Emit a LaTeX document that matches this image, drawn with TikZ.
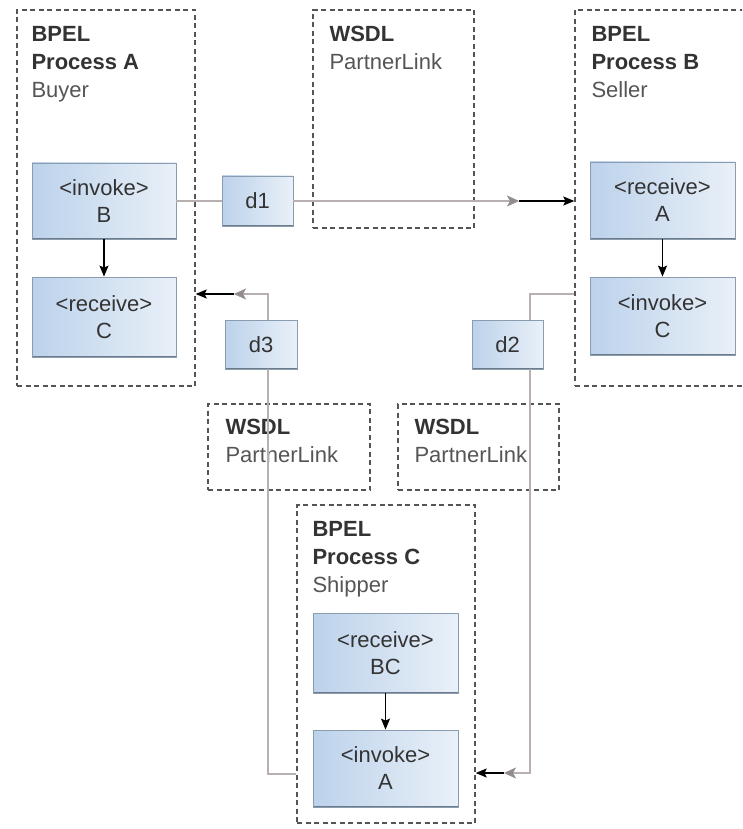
\documentclass[tikz,border=0pt]{standalone}
\usepackage{fontspec}
\setmainfont{Liberation Sans}
\usetikzlibrary{arrows.meta,calc}
\definecolor{boxL}{HTML}{BCD2EB}
\definecolor{boxR}{HTML}{E9F0F8}
\definecolor{boxLine}{HTML}{8A9CB0}
\definecolor{boxShade}{HTML}{6E7C8A}
\definecolor{dashCol}{HTML}{555555}
\definecolor{connCol}{HTML}{B8B0B0}
\definecolor{tipCol}{HTML}{948C8C}
\definecolor{boldCol}{HTML}{333333}
\definecolor{lightCol}{HTML}{555555}
\tikzset{
  container/.style={draw=dashCol, line width=1.3pt, dash pattern=on 5pt off 3.5pt, minimum width=#1, inner sep=0pt},
  ttl/.style={anchor=north west, align=left, inner sep=0pt, font=\fontsize{22}{28}\selectfont},
  act/.style={draw=boxLine, line width=0.8pt, left color=boxL, right color=boxR,
    minimum width=145pt, minimum height=78pt, align=center, inner sep=0pt,
    text=boldCol, font=\fontsize{22}{27}\selectfont,
    path picture={\draw[boxShade, line width=2.4pt] (path picture bounding box.south west) -- (path picture bounding box.south east);
                  \draw[boxShade!70, line width=1.6pt] (path picture bounding box.south west) -- (path picture bounding box.north west);}},
  dat/.style={act, minimum width=71pt, minimum height=50pt},
  conn/.style={draw=connCol, line width=1.6pt},
  gtip/.style={conn, -{Stealth[length=12pt,width=11pt,inset=3pt,line width=0.5pt,color=tipCol]}},
  btip/.style={draw=black, line width=1.4pt, -{Stealth[length=11pt,width=9pt,inset=2pt]}},
}
\begin{document}
\begin{tikzpicture}[x=1pt,y=-1pt]
\useasboundingbox (0,0) rectangle (742,829);
\clip (0,0) rectangle (742,829);
% containers
\node[container=178pt, minimum height=376pt] (procA) at (106,198) {};
\node[container=161pt, minimum height=218pt] (wsdlT) at (393.5,119) {};
\node[container=190pt, minimum height=376pt] (procB) at (670,198) {};
\node[container=162pt, minimum height=86pt] (wsdlL) at (289,447) {};
\node[container=161pt, minimum height=86pt] (wsdlR) at (478.5,447) {};
\node[container=178pt, minimum height=318pt] (procC) at (386,664) {};
% titles
\node[ttl] (tA) at ([shift={(15,17)}]procA.north west) {\textcolor{boldCol}{\textbf{BPEL}}\\\textcolor{boldCol}{\textbf{Process A}}\\\textcolor{lightCol}{Buyer}};
\node[ttl] (tW) at ([shift={(17,17)}]wsdlT.north west) {\textcolor{boldCol}{\textbf{WSDL}}\\\textcolor{lightCol}{PartnerLink}};
\node[ttl] (tB) at ([shift={(17,17)}]procB.north west) {\textcolor{boldCol}{\textbf{BPEL}}\\\textcolor{boldCol}{\textbf{Process B}}\\\textcolor{lightCol}{Seller}};
\node[ttl] (tWL) at ([shift={(18,16)}]wsdlL.north west) {\textcolor{boldCol}{\textbf{WSDL}}\\\textcolor{lightCol}{PartnerLink}};
\node[ttl] (tWR) at ([shift={(17,16)}]wsdlR.north west) {\textcolor{boldCol}{\textbf{WSDL}}\\\textcolor{lightCol}{PartnerLink}};
\node[ttl] (tC) at ([shift={(16,17)}]procC.north west) {\textcolor{boldCol}{\textbf{BPEL}}\\\textcolor{boldCol}{\textbf{Process C}}\\\textcolor{lightCol}{Shipper}};
% activities
\node[act, minimum width=144pt, minimum height=76pt] (invB) at (104,201) {<invoke>\\B};
\node[act, minimum width=144pt, minimum height=80pt] (recC) at (104,317) {<receive>\\C};
\node[act, minimum height=77pt] (recA) at (662.5,200.5) {<receive>\\A};
\node[act] (invC) at (662.5,316) {<invoke>\\C};
\node[act, minimum height=80pt] (recBC) at (385.5,653) {<receive>\\BC};
\node[act, minimum height=77pt] (invA) at (385.5,768.5) {<invoke>\\A};
% data
\node[dat] (d1) at (257.5,201) {d1};
\node[dat, minimum width=72pt, minimum height=49pt] (d3) at (261,344.5) {d3};
\node[dat, minimum height=49pt] (d2) at (507.5,344.5) {d2};
% internal flow
\draw[btip, line width=1.2pt] (invB.south) -- (recC.north);
\draw[btip, line width=1.2pt] (recA.south) -- (invC.north);
\draw[btip, line width=1.2pt] (recBC.south) -- (invA.north);
% d1 connector
\coordinate (g1) at (519,201);
\draw[conn] (invB.east) -- (d1.west);
\draw[gtip] (d1.east) -- (g1);
\draw[btip] (g1) -- (g1 -| procB.west);
% d3 connector
\coordinate (p3low) at (268,774);
\coordinate (p3high) at (268,294);
\coordinate (g3) at (234,294);
\draw[conn] (procC.west |- p3low) -- (p3low) -- (p3low |- d3.south);
\draw[gtip] (p3high |- d3.north) -- (p3high) -- (g3);
\draw[btip] (g3) -- (procA.east |- g3);
% d2 connector
\coordinate (p2high) at (530,294);
\coordinate (p2low) at (530,773);
\coordinate (g2) at (504,773);
\draw[conn] (procB.west |- p2high) -- (p2high) -- (p2high |- d2.north);
\draw[gtip] (p2low |- d2.south) -- (p2low) -- (g2);
\draw[btip] (g2) -- (procC.east |- g2);
\end{tikzpicture}
\end{document}
